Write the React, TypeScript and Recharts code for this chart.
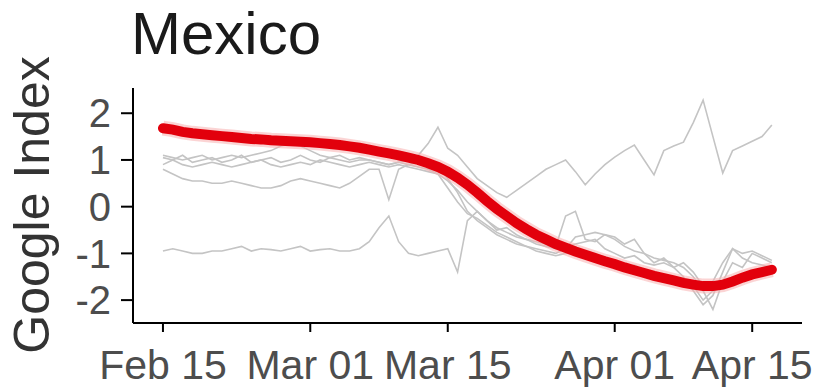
import React from "react";
import { LineChart, Line, XAxis, YAxis } from "recharts";

// days since Feb 15 (2020)
const days = [0,1,2,3,4,5,6,7,8,9,10,11,12,13,14,15,16,17,18,19,20,21,22,23,24,25,26,27,28,29,30,31,32,33,34,35,36,37,38,39,40,41,42,43,44,45,46,47,48,49,50,51,52,53,54,55,56,57,58,59,60,61,62];

const tickDays = [0, 15, 29, 46, 60];
const tickLabels = ["Feb 15", "Mar 01", "Mar 15", "Apr 01", "Apr 15"];
const yTicks = [-2, -1, 0, 1, 2];

const mean = [1.68,1.65,1.6,1.57,1.55,1.53,1.51,1.49,1.47,1.45,1.44,1.42,1.41,1.4,1.39,1.38,1.36,1.34,1.32,1.29,1.26,1.22,1.18,1.14,1.1,1.05,1.0,0.93,0.85,0.75,0.62,0.47,0.3,0.12,-0.05,-0.2,-0.35,-0.48,-0.6,-0.7,-0.8,-0.88,-0.96,-1.03,-1.1,-1.17,-1.23,-1.3,-1.36,-1.42,-1.48,-1.53,-1.58,-1.63,-1.67,-1.7,-1.7,-1.67,-1.6,-1.52,-1.45,-1.4,-1.35];

const g1 = [-0.95,-0.9,-0.95,-1.0,-1.0,-0.95,-0.95,-0.9,-0.85,-0.95,-0.9,-0.92,-0.95,-0.9,-0.85,-0.95,-0.92,-0.9,-0.95,-0.95,-0.9,-0.75,-0.45,-0.2,-0.75,-1.0,-1.05,-1.0,-0.95,-0.9,-1.4,-0.3,-0.1,-0.3,-0.5,-0.45,-0.6,-0.7,-0.75,-0.8,-0.85,-0.2,-0.1,-0.7,-0.75,-0.6,-0.65,-0.8,-0.7,-1.0,-1.2,-1.1,-1.3,-1.5,-1.8,-2.1,-1.9,-1.4,-0.9,-1.1,-1.2,-1.25,-1.3];

const g2 = [1.05,1.0,1.1,0.95,1.0,1.05,0.95,1.0,1.1,0.95,1.0,1.05,0.95,1.0,1.1,1.0,0.95,1.05,1.0,0.95,1.0,1.0,0.95,0.9,0.95,1.0,1.1,1.35,1.7,1.25,1.1,0.85,0.6,0.45,0.3,0.2,0.35,0.5,0.65,0.8,0.9,1.0,0.75,0.47,0.7,0.9,1.06,1.2,1.32,1.0,0.68,1.2,1.3,1.38,1.8,2.28,1.5,0.72,1.2,1.3,1.4,1.5,1.75];

const g3 = [0.8,0.7,0.6,0.55,0.55,0.5,0.5,0.55,0.5,0.45,0.4,0.4,0.45,0.55,0.6,0.55,0.5,0.45,0.4,0.5,0.65,0.8,0.8,0.15,0.8,0.9,0.95,0.9,0.85,0.6,0.3,-0.1,-0.3,-0.45,-0.6,-0.7,-0.8,-0.85,-0.9,-0.95,-1.0,-0.9,-0.65,-0.6,-0.55,-0.6,-0.7,-0.85,-0.95,-1.0,-1.1,-1.15,-1.2,-1.3,-1.5,-1.8,-2.2,-1.6,-1.2,-1.3,-1.0,-1.1,-1.2];

const g4 = [1.1,1.05,1.0,1.05,1.1,1.0,1.05,1.1,1.05,1.1,1.15,1.2,1.3,1.35,1.3,1.2,1.1,1.05,1.1,1.0,1.05,1.0,0.95,0.9,0.95,0.9,0.85,0.8,0.7,0.55,0.35,0.1,-0.1,-0.3,-0.45,-0.55,-0.65,-0.7,-0.8,-0.85,-0.9,-0.85,-0.8,-0.75,-0.7,-0.9,-1.0,-1.1,-1.05,-1.2,-1.25,-1.2,-1.3,-1.2,-1.4,-1.7,-1.6,-1.2,-0.9,-1.0,-0.95,-1.05,-1.15];

const g5 = [0.9,1.0,0.9,0.85,0.9,0.95,0.9,0.85,0.9,0.95,1.0,0.9,0.85,0.9,0.95,0.9,1.0,0.95,0.9,0.85,0.9,0.95,0.9,0.85,0.9,0.85,0.8,0.75,0.7,0.4,0.1,-0.15,-0.25,-0.4,-0.55,-0.65,-0.75,-0.85,-0.95,-1.0,-1.05,-1.0,-0.9,-1.1,-1.0,-1.15,-1.2,-1.3,-1.25,-1.35,-1.4,-1.45,-1.5,-1.55,-1.7,-2.0,-1.8,-1.75,-1.6,-1.5,-1.4,-1.35,-1.3];

const data = days.map((d, i) => ({
  day: d,
  mean: mean[i],
  g1: g1[i],
  g2: g2[i],
  g3: g3[i],
  g4: g4[i],
  g5: g5[i],
}));

const grayKeys = ["g1", "g2", "g3", "g4", "g5"];
const FONT = "'Liberation Sans', Arial, sans-serif";

export default function App() {
  return (
    <div style={{ position: "absolute", left: 0, top: 0, width: 813, height: 390, background: "#fff" }}>
      <LineChart
        width={813}
        height={390}
        data={data}
        margin={{ top: 88, right: 11, bottom: 7, left: 53 }}
      >
        <XAxis
          dataKey="day"
          type="number"
          domain={[-3.05, 65.07]}
          ticks={tickDays}
          tickFormatter={(v: number) => tickLabels[tickDays.indexOf(v)]}
          height={60}
          tickSize={9}
          tickMargin={18}
          axisLine={{ stroke: "#000", strokeWidth: 2 }}
          tickLine={{ stroke: "#000", strokeWidth: 2 }}
          tick={{ fill: "#4d4d4d", fontSize: 41, fontFamily: FONT }}
          interval={0}
          allowDataOverflow
        />
        <YAxis
          type="number"
          domain={[-2.49, 2.54]}
          ticks={yTicks}
          width={80}
          tickSize={12}
          tickMargin={10}
          axisLine={{ stroke: "#000", strokeWidth: 2 }}
          tickLine={{ stroke: "#000", strokeWidth: 2 }}
          tick={{ fill: "#4d4d4d", fontSize: 40, fontFamily: FONT }}
          interval={0}
          allowDataOverflow
        />
        {grayKeys.map((k) => (
          <Line
            key={k}
            dataKey={k}
            type="linear"
            stroke="#c4c4c4"
            strokeWidth={1.6}
            dot={false}
            isAnimationActive={false}
          />
        ))}
        <Line
          dataKey="mean"
          type="linear"
          stroke="#f7b0b0"
          strokeWidth={15}
          strokeOpacity={0.55}
          dot={false}
          isAnimationActive={false}
        />
        <Line
          dataKey="mean"
          type="linear"
          stroke="#e2000c"
          strokeWidth={10}
          strokeLinecap="round"
          dot={false}
          isAnimationActive={false}
        />
      </LineChart>
      <div
        style={{
          position: "absolute",
          left: 131,
          top: 0,
          fontFamily: FONT,
          fontSize: 60,
          lineHeight: "68px",
          color: "#1a1a1a",
          whiteSpace: "nowrap",
        }}
      >
        Mexico
      </div>
      <div
        style={{
          position: "absolute",
          left: 32,
          top: 205,
          transform: "translate(-50%, -50%) rotate(-90deg)",
          fontFamily: FONT,
          fontSize: 50,
          lineHeight: "56px",
          color: "#333",
          whiteSpace: "nowrap",
        }}
      >
        Google Index
      </div>
    </div>
  );
}
